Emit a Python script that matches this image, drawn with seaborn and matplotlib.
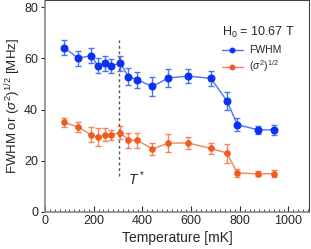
import matplotlib

matplotlib.use("Agg")

import matplotlib.pyplot as plt
from matplotlib.ticker import MultipleLocator
import numpy as np
import pandas as pd
import seaborn as sns

# data
temperature = [78, 137, 188, 217, 247, 271, 309, 342, 379, 441, 507, 589, 681, 747, 790, 873, 942]
fwhm = [64.2, 60.0, 61.1, 57.1, 58.1, 57.1, 58.1, 52.9, 51.6, 49.0, 52.4, 53.0, 52.2, 43.4, 34.1, 32.1, 32.0]
fwhm_err = [3.0, 3.0, 3.0, 3.0, 3.0, 2.8, 3.0, 3.3, 3.0, 3.8, 3.5, 2.8, 3.0, 3.5, 2.5, 1.5, 2.0]
sigma = [35.0, 33.1, 30.2, 29.1, 30.1, 30.1, 31.0, 28.0, 28.0, 24.6, 26.9, 26.9, 24.8, 23.0, 15.2, 14.9, 14.9]
sigma_err = [1.8, 2.0, 3.0, 3.5, 2.5, 2.0, 2.5, 3.0, 3.0, 2.5, 3.6, 2.2, 2.0, 3.7, 1.5, 1.0, 1.3]

t_star = 305
field_label = "H$_0$ = 10.67 T"

sns.set_style("ticks")
plt.rcParams["font.family"] = ["Liberation Sans", "DejaVu Sans"]
plt.rcParams["mathtext.fontset"] = "custom"
plt.rcParams["mathtext.rm"] = "Liberation Sans"
plt.rcParams["mathtext.it"] = "Liberation Sans:italic"

blue, blue_line = "#0a2ff5", "#4a72f7"
orange, orange_line = "#f25a22", "#f5845a"

df = pd.concat([
    pd.DataFrame({"T": temperature, "val": fwhm, "series": "FWHM"}),
    pd.DataFrame({"T": temperature, "val": sigma, "series": "sigma"}),
])

fig = plt.figure(figsize=(3.11, 2.49), dpi=100)
ax = fig.add_axes([0.145, 0.149, 0.849, 0.849])

ax.errorbar(temperature, fwhm, yerr=fwhm_err, fmt="none", ecolor=blue_line,
            elinewidth=1.0, capsize=2.5, capthick=1.0, zorder=2)
ax.errorbar(temperature, sigma, yerr=sigma_err, fmt="none", ecolor=orange_line,
            elinewidth=1.0, capsize=2.5, capthick=1.0, zorder=2)

sns.lineplot(data=df[df["series"] == "FWHM"], x="T", y="val", ax=ax, color=blue_line,
             linewidth=1.0, marker="o", markersize=5, markerfacecolor=blue,
             markeredgecolor=blue, label="FWHM", zorder=3)
sns.lineplot(data=df[df["series"] == "sigma"], x="T", y="val", ax=ax, color=orange_line,
             linewidth=1.0, marker="o", markersize=4, markerfacecolor=orange,
             markeredgecolor=orange, label="($\\sigma^2$)$^{1/2}$", zorder=3)

ax.vlines(t_star, 14, 67, colors="#555555", linestyles=(0, (2, 2)), linewidth=1.0)
ax.text(374, 13, "$T^*$", fontsize=10, ha="center", va="center")

ax.set_xlim(0, 1085)
ax.set_ylim(0, 82.6)
ax.xaxis.set_major_locator(MultipleLocator(200))
ax.xaxis.set_minor_locator(MultipleLocator(20))
ax.yaxis.set_major_locator(MultipleLocator(20))
ax.tick_params(axis="x", which="major", direction="in", length=4, width=0.8, labelsize=9, pad=2)
ax.tick_params(axis="x", which="minor", direction="in", length=2.5, width=0.6)
ax.tick_params(axis="y", which="major", direction="out", length=3, width=0.8, labelsize=9, pad=2)

ax.set_xlabel("Temperature [mK]", fontsize=10, labelpad=3)
ax.set_ylabel("FWHM or ($\\sigma^2$)$^{1/2}$ [MHz]", fontsize=9.5, labelpad=1)

for side in ["left", "bottom"]:
    ax.spines[side].set_color("#888888")
    ax.spines[side].set_linewidth(1.2)
for side in ["top", "right"]:
    ax.spines[side].set_color("#444444")
    ax.spines[side].set_linewidth(0.8)

leg = ax.legend(loc="upper right", bbox_to_anchor=(0.98, 0.93), frameon=False, fontsize=7.5,
                handlelength=2.0, handletextpad=0.6, labelspacing=0.3,
                title=field_label, title_fontsize=9)
leg._legend_box.align = "left"
leg._legend_box.sep = 4
for h in leg.legend_handles:
    h.set_markersize(3.5)

fig.savefig("out.png", dpi=100)
